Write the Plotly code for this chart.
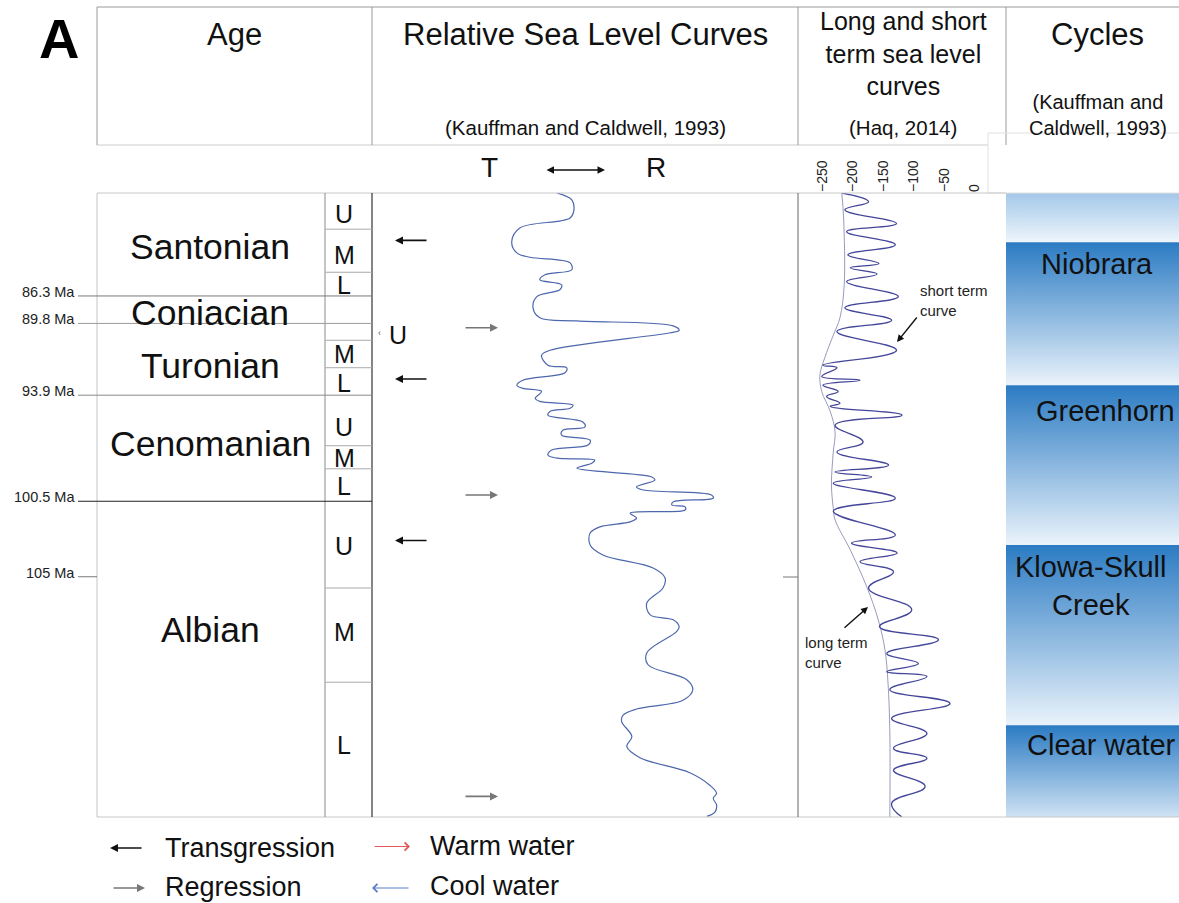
import plotly.graph_objects as go

W, H = 1179, 903
FONT = "Liberation Sans, Arial, sans-serif"

# ---------------- data ----------------
# Kauffman & Caldwell (1993) relative sea-level curve
# level: T-R index (0 = transgressive side, 100 = regressive side); pos: stratigraphic position (0 = top, 100 = base)
kc_level = [43.4, 46.9, 47.4, 46.5, 34.7, 32.8, 34.0, 37.1, 46.5, 46.9, 40.6, 39.4, 44.5, 44.1, 38.7, 37.8,
            39.4, 48.1, 70.7, 72.1, 70.0, 41.8, 39.8, 41.3, 45.7, 45.3, 35.4, 34.0, 35.4, 39.8, 38.3, 39.4,
            47.2, 46.5, 41.8, 41.3, 49.5, 50.0, 44.8, 44.5, 51.2, 50.7, 42.2, 41.3, 43.4, 52.3, 51.6, 48.1,
            65.7, 66.4, 62.1, 63.7, 79.7, 80.1, 70.7, 70.4, 73.5, 73.5, 60.6, 62.1, 60.6, 53.5, 51.2, 51.2,
            54.2, 66.0, 68.8, 68.3, 64.5, 65.3, 70.7, 72.1, 71.5, 64.5, 64.8, 73.9, 75.3, 73.0, 62.1, 58.9,
            58.6, 61.0, 59.8, 62.9, 74.6, 79.3, 80.9, 80.1, 80.9, 80.5, 78.6]
kc_pos = [0.0, 1.1, 2.7, 4.0, 5.6, 7.8, 9.6, 10.3, 11.2, 12.3, 13.1, 13.9, 14.7, 15.5, 16.6, 18.4,
          20.0, 20.5, 21.3, 22.0, 22.4, 25.2, 26.0, 27.6, 28.0, 28.8, 30.0, 30.8, 31.3, 31.8, 32.9, 33.4,
          34.0, 34.5, 35.0, 35.6, 36.7, 37.5, 38.0, 38.8, 39.6, 40.4, 41.2, 42.0, 42.5, 42.8, 43.3, 44.1,
          45.5, 46.0, 47.1, 47.6, 48.4, 48.9, 49.5, 50.0, 50.3, 50.8, 51.3, 52.1, 52.7, 53.5, 54.5, 56.4,
          58.0, 60.1, 61.7, 63.3, 65.7, 67.6, 68.4, 69.5, 70.3, 73.7, 75.6, 78.0, 79.6, 81.3, 82.7, 83.7,
          84.7, 87.1, 88.7, 90.5, 92.9, 94.9, 96.2, 97.0, 98.1, 99.2, 99.9]

# Haq (2014) short-term sea level (m)
sh_level = [-218, -174, -213, -128, -210, -130, -208, -157, -204, -160, -210, -125, -213, -136, -226, -128,
            -249, -226, -251, -188, -249, -224, -243, -221, -237, -119, -229, -183, -226, -141, -229, -169,
            -232, -130, -232, -130, -202, -127, -188, -133, -174, -103, -156, -59, -144, -92, -144, -78,
            -139, -40, -136, -78, -133, -78, -133, -81, -136, -119]
sh_pos = [0.0, 1.4, 2.7, 4.9, 6.2, 8.3, 9.9, 11.3, 12.0, 13.0, 14.2, 16.6, 18.4, 20.4, 22.2, 25.2,
          27.6, 28.0, 29.4, 30.0, 30.8, 31.8, 32.6, 33.7, 34.2, 35.6, 37.2, 39.9, 41.5, 43.6, 44.7, 45.5,
          46.5, 48.9, 51.0, 54.8, 56.1, 57.7, 59.1, 60.7, 63.3, 66.8, 69.5, 71.6, 73.8, 75.4, 76.7, 77.5,
          79.6, 81.8, 84.2, 86.6, 89.0, 90.6, 92.5, 95.1, 97.8, 100.0]

# Haq (2014) long-term sea level (m)
lt_level = [-218, -215, -214, -221, -232, -246, -254, -251, -237, -229, -232, -235, -232, -229, -204,
            -177, -158, -147, -142, -139, -139]
lt_pos = [0.0, 4.0, 14.7, 20.0, 22.8, 26.4, 29.2, 31.8, 35.0, 38.3, 41.5, 46.8, 50.5, 52.4, 57.2,
          63.1, 68.4, 73.2, 78.5, 86.5, 100.0]
haq_ticks = [-250, -200, -150, -100, -50, 0]

stage_names = ["Santonian", "Coniacian", "Turonian", "Cenomanian", "Albian"]
stage_label_pos = [8.7, 19.2, 27.8, 40.2, 70.0]
age_labels = ["86.3 Ma", "89.8 Ma", "93.9 Ma", "100.5 Ma", "105 Ma"]
age_pos = [16.5, 20.9, 32.4, 49.4, 61.5]
substage_letters = ["U", "M", "L", "M", "L", "U", "M", "L", "U", "M", "L"]
substage_letter_pos = [3.4, 9.9, 14.7, 25.8, 30.4, 37.5, 42.5, 47.0, 56.6, 70.4, 88.5]
substage_bounds = [5.8, 12.7, 23.6, 28.0, 40.5, 44.2, 63.3, 78.4]

transgression_pos = [7.6, 29.8, 55.7]
regression_pos = [21.6, 48.4, 96.7]

cycle_names = ["", "Niobrara", "Greenhorn", "Klowa-Skull<br>Creek", "Clear water"]
cycle_bounds = [0.0, 7.9, 30.8, 56.4, 85.3, 100.0]
cycle_label_pos = [None, 11.4, 34.9, 62.9, 88.5]

# ---------------- helpers ----------------
def X(p):
    return p / W

def Y(p):
    return 1 - p / H

BODY_TOP, BODY_BOT = 193, 817
ydom = [Y(BODY_BOT), Y(BODY_TOP)]

fig = go.Figure()

# cycles gradient bands
cyc_top = ['#a3c8e8', '#2b7bc3', '#2b7bc3', '#2b7bc3', '#2b7bc3']
cyc_bot = ['#eef5fc', '#eaf3fb', '#eaf3fb', '#eaf3fb', '#cfe2f3']
for i in range(len(cycle_names)):
    y0, y1 = cycle_bounds[i], cycle_bounds[i + 1]
    fig.add_trace(go.Scatter(
        x=[0, 1, 1, 0, 0], y=[y0, y0, y1, y1, y0], xaxis='x4', yaxis='y2',
        mode='lines', line=dict(width=0), fill='toself',
        fillgradient=dict(type='vertical', colorscale=[[0, cyc_top[i]], [1, cyc_bot[i]]],
                          start=y0, stop=y1),
        hoverinfo='skip'))

fig.add_trace(go.Scatter(x=kc_level, y=kc_pos, xaxis='x2', yaxis='y2', mode='lines',
                         line=dict(color='#4d67ad', width=1.2, shape='spline', smoothing=1.0),
                         hoverinfo='skip'))
fig.add_trace(go.Scatter(x=lt_level, y=lt_pos, xaxis='x3', yaxis='y2', mode='lines',
                         line=dict(color='#8c8eb4', width=0.9, shape='spline'),
                         hoverinfo='skip'))
fig.add_trace(go.Scatter(x=sh_level, y=sh_pos, xaxis='x3', yaxis='y2', mode='lines',
                         line=dict(color='#44469a', width=1.3, shape='spline', smoothing=1.3),
                         hoverinfo='skip'))

shapes = []

def hline(x0, x1, y, color, width=1, yref='paper'):
    yy = Y(y) if yref == 'paper' else y
    shapes.append(dict(type='line', xref='paper', yref=yref, x0=X(x0), x1=X(x1), y0=yy, y1=yy,
                       line=dict(color=color, width=width)))

def vline(x, y0, y1, color, width=1):
    shapes.append(dict(type='line', xref='paper', yref='paper', x0=X(x), x1=X(x), y0=Y(y0), y1=Y(y1),
                       line=dict(color=color, width=width)))

# header frame
hline(97, 1179, 7, '#9a9a9a')
hline(97, 988, 145, '#cccccc')
for xv in [97, 372, 798, 1006]:
    vline(xv, 7, 145, '#9a9a9a')
shapes.append(dict(type='rect', xref='paper', yref='paper', x0=X(988), x1=X(1180), y0=Y(193), y1=Y(133),
                   line=dict(color='#e0e0e0', width=1)))
# body frame
hline(97, 1006, BODY_TOP, '#c8c8c8')
hline(97, 1179, BODY_BOT, '#c8c8c8')
vline(97, BODY_TOP, BODY_BOT, '#c4c4c4')
vline(325, BODY_TOP, BODY_BOT, '#8a8a8a')
vline(372, BODY_TOP, BODY_BOT, '#333333', 1.2)
vline(798, BODY_TOP, BODY_BOT, '#666666')
hline(783, 798, 577, '#777777')

age_colors = ['#7a7a7a', '#9a9a9a', '#8a8a8a', '#222222', '#777777']
for i, p in enumerate(age_pos):
    x1 = 97 if i == 4 else 372
    hline(78, x1, p, age_colors[i], 1.2 if i == 3 else 1, yref='y2')
for p in substage_bounds:
    hline(325, 372, p, '#aaaaaa', 1, yref='y2')

annotations = []

def txt(text, x, y, size, yref='paper', xanchor='center', color='#111111', bold=False, yshift=0,
        align='center'):
    yy = Y(y) if yref == 'paper' else y
    annotations.append(dict(text=text, x=X(x), y=yy, xref='paper', yref=yref, showarrow=False,
                            xanchor=xanchor, yanchor='middle', yshift=yshift, align=align,
                            font=dict(family=FONT, size=size, color=color,
                                      weight='bold' if bold else 'normal')))

def arrow(xh, y, ax, color, yref='paper', head=2, width=1.6, size=1.0, side='end', ay=0):
    yy = Y(y) if yref == 'paper' else y
    annotations.append(dict(text='', x=X(xh), y=yy, xref='paper', yref=yref, showarrow=True,
                            ax=ax, ay=ay, axref='pixel', ayref='pixel', arrowhead=head,
                            arrowsize=size, arrowwidth=width, arrowcolor=color, arrowside=side,
                            standoff=0, startstandoff=0))

# header text
txt('A', 59, 39, 56, bold=True, color='#000000')
txt('Age', 234, 35, 31)
txt('Relative Sea Level Curves', 585, 35, 31)
txt('(Kauffman and Caldwell, 1993)', 585, 128, 20.5)
txt('Long and short<br>term sea level<br>curves', 903, 54, 25)
txt('(Haq, 2014)', 903, 128, 20.5)
txt('Cycles', 1097, 35, 31)
txt('(Kauffman and<br>Caldwell, 1993)', 1098, 115, 20)
txt('T', 489, 167, 28)
txt('R', 656, 167, 28)
annotations.append(dict(text='', x=X(605), y=Y(170), xref='paper', yref='paper', showarrow=True,
                        ax=-60, ay=0, axref='pixel', ayref='pixel', arrowhead=2, arrowsize=1,
                        arrowwidth=1.5, arrowcolor='#111111', arrowside='end+start',
                        standoff=0, startstandoff=0))

# stages, ages, substages
for name, p in zip(stage_names, stage_label_pos):
    txt(name, 210, p, 35.5, yref='y2')
for lab, p in zip(age_labels, age_pos):
    txt(lab, 77, p, 14.5, yref='y2', xanchor='right', color='#222222', yshift=4)
for lab, p in zip(substage_letters, substage_letter_pos):
    txt(lab, 344, p, 25, yref='y2')
txt('U', 398, 335, 25)
txt('\u2039', 379, 333, 9, color='#555555')

# T-R arrows in curve panel
for p in transgression_pos:
    arrow(395, p, 33, '#111111', yref='y2')
for p in regression_pos:
    arrow(498, p, -34, '#777777', yref='y2')

# Haq curve labels
txt('short term<br>curve', 918, 301, 15, xanchor='left', color='#222222', align='left')
arrow(897, 342, 21, '#111111', ay=-26, width=1.4)
txt('long term<br>curve', 803, 652, 15, xanchor='left', color='#222222', align='left')
arrow(868, 607, -25, '#111111', ay=22, width=1.4)

# cycle labels
cyc_x = [None, 1097, 1105, 1091, 1101]
for name, p, cx in zip(cycle_names, cycle_label_pos, cyc_x):
    if name:
        txt(name, cx, p, 29, yref='y2')

# legend
arrow(110, 848, 33, '#111111')
txt('Transgression', 163, 848, 27, xanchor='left')
arrow(145, 888, -33, '#777777')
txt('Regression', 163, 887, 27, xanchor='left')
arrow(410, 846.5, -37, '#e05a5a', head=4, width=1, size=1.6)
txt('Warm water', 428, 846, 27, xanchor='left')
arrow(372, 888, 38, '#5a7cc8', head=4, width=1, size=1.6)
txt('Cool water', 428, 886, 27, xanchor='left')

fig.update_layout(
    width=W, height=H, margin=dict(l=0, r=0, t=0, b=0, pad=0),
    paper_bgcolor='white', plot_bgcolor='rgba(0,0,0,0)', showlegend=False,
    xaxis=dict(visible=False), yaxis=dict(visible=False),
    xaxis2=dict(domain=[X(372), X(798)], range=[0, 100], visible=False, anchor='y2'),
    yaxis2=dict(domain=ydom, range=[100, 0], visible=False, anchor='x2'),
    xaxis3=dict(domain=[X(798), X(1006)], range=[-290, 52], anchor='y2', side='top',
                tickmode='array', tickvals=haq_ticks, tickangle=-90, ticks='',
                tickfont=dict(family=FONT, size=14, color='#222222'),
                showgrid=False, zeroline=False, showline=False, automargin=False),
    xaxis4=dict(domain=[X(1006), 1], range=[0, 1], visible=False, anchor='y2'),
    shapes=shapes, annotations=annotations,
)

fig.write_html("out.html")
